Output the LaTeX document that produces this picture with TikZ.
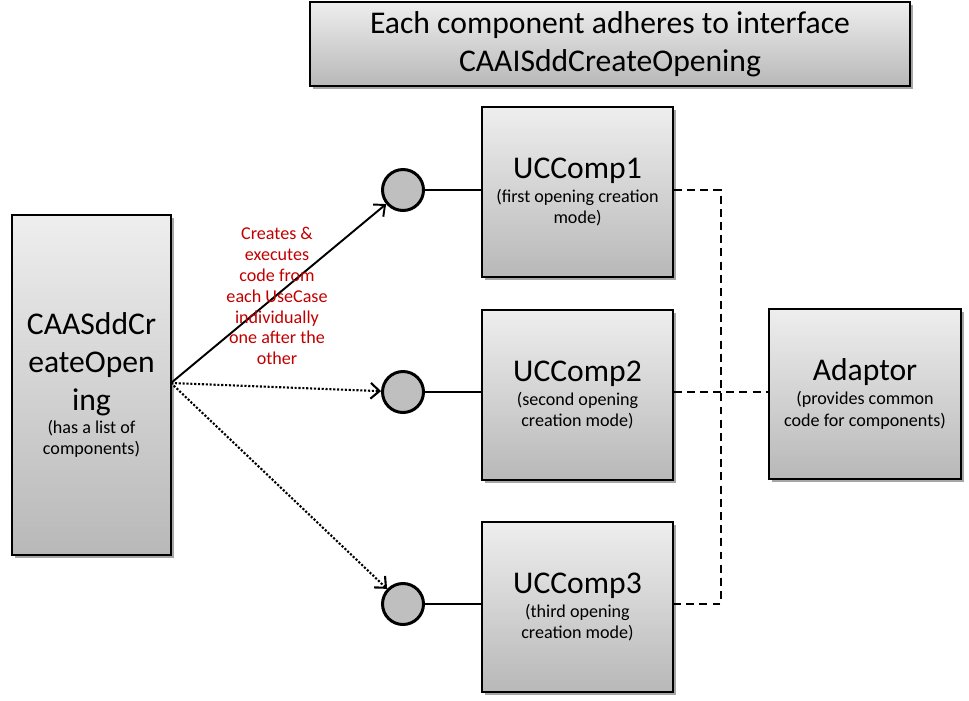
\documentclass[tikz,border=0pt]{standalone}
\usepackage{fontspec}
\setmainfont{Carlito}
\usetikzlibrary{arrows.meta,positioning,shadows}
\definecolor{boxtop}{RGB}{238,238,238}
\definecolor{boxbottom}{RGB}{184,184,184}
\definecolor{portgray}{RGB}{191,191,191}
\definecolor{notered}{RGB}{192,0,0}
\newcommand{\bigtxt}{\fontsize{18}{21.5}\selectfont}
\newcommand{\smalltxt}{\fontsize{10.3}{11.9}\selectfont}

\begin{document}
\begin{tikzpicture}[x=0.02cm,y=-0.02cm,>={Straight Barb[length=5pt,width=9pt]},
  compbox/.style={draw,line width=0.7pt,top color=boxtop,bottom color=boxbottom,align=center,font=\bigtxt,
    drop shadow={shadow xshift=1.5pt,shadow yshift=-1.5pt,fill=black,opacity=0.35}},
  port/.style={circle,draw,line width=1.7pt,fill=portgray,minimum size=0.82cm,inner sep=0pt},
  wire/.style={line width=1.1pt},
  dotlink/.style={line width=1.2pt,densely dotted},
  dashlink/.style={line width=1.2pt,dash pattern=on 4.5pt off 3pt}]
\useasboundingbox (0,0) rectangle (969,700);

\node[compbox,minimum width=12cm,minimum height=1.68cm] (iface) at (610,44)
  {Each component adheres to interface\\CAAISddCreateOpening};

\node[compbox,minimum width=3.18cm,minimum height=6.8cm] (creator) at (91.5,385)
  {CAASddCr\\eateOpen\\ing\\[-8pt]\smalltxt (has a list of\\[-9.8pt]\smalltxt components)};

\node[compbox,minimum width=3.82cm,minimum height=3.4cm] (comp1) at (577.5,192)
  {UCComp1\\[-8pt]\smalltxt (first opening creation\\[-9.2pt]\smalltxt mode)};
\node[compbox,minimum width=3.82cm,minimum height=3.4cm] (comp2) at (577.5,395)
  {UCComp2\\[-8pt]\smalltxt (second opening\\[-9.2pt]\smalltxt creation mode)};
\node[compbox,minimum width=3.82cm,minimum height=3.4cm] (comp3) at (577.5,607)
  {UCComp3\\[-8pt]\smalltxt (third opening\\[-9.2pt]\smalltxt creation mode)};
\node[compbox,minimum width=3.84cm,minimum height=3.4cm] (adaptor) at (865,394)
  {Adaptor\\[-8pt]\smalltxt (provides common\\[-9.2pt]\smalltxt code for components)};

\node[port] (port1) at (403,190) {};
\node[port] (port2) at (403,392) {};
\node[port] (port3) at (403,604) {};

% ports to components
\draw[wire] (port1) -- (port1 -| comp1.west);
\draw[wire] (port2) -- (port2 -| comp2.west);
\draw[wire] (port3) -- (port3 -| comp3.west);

% calls from the creator
\coordinate (start) at (171,383);
\draw[wire,->] (start) -- (port1);
\draw[dotlink,->] (start) -- (port2);
\draw[dotlink,->] (start) -- (port3);

\node[text=notered,align=center,font=\smalltxt] (note) at (277,296)
  {Creates \&\\executes\\code from\\each UseCase\\individually\\one after the\\other};

% links to the adaptor
\draw[dashlink] (comp1.east |- port1) -- ++(47,0) |- (comp3.east |- port3);
\draw[dashlink] (comp2.east |- port2) -- (adaptor.west |- port2);
\end{tikzpicture}
\end{document}
